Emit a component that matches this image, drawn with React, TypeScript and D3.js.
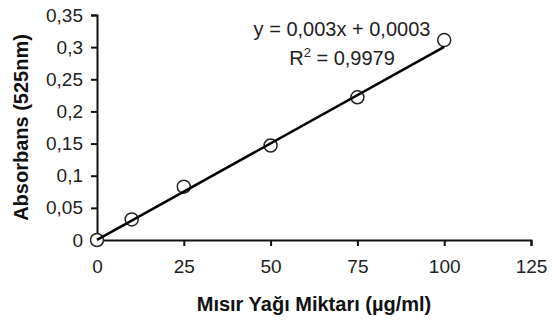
import React, { useEffect, useRef } from 'react'
import * as d3 from 'd3'

// concentration (µg/ml) vs absorbance at 525nm
const amounts = [0, 10, 25, 50, 75, 100]
const absorbances = [0, 0.032, 0.083, 0.147, 0.222, 0.311]

const xTicks = [0, 25, 50, 75, 100, 125]
const yTicks = [0, 0.05, 0.1, 0.15, 0.2, 0.25, 0.3, 0.35]

const slope = 0.003
const intercept = 0.0003
const equationLabel = 'y = 0,003x + 0,0003'
const r2Value = ' = 0,9979'

const xTitle = 'Mısır Yağı Miktarı (µg/ml)'
const yTitle = 'Absorbans (525nm)'

const width = 555
const height = 322
const font = '"Liberation Sans", Arial, sans-serif'

const comma = (d: number) => String(d).replace('.', ',')

export default function App () {
  const ref = useRef<SVGSVGElement>(null)

  useEffect(() => {
    const svg = d3.select(ref.current)
    svg.selectAll('*').remove()

    const x = d3.scaleLinear().domain([0, 125]).range([97, 531])
    const y = d3.scaleLinear().domain([0, 0.35]).range([240, 15])

    const g = svg.append('g').attr('font-family', font)

    // y axis
    const yAxis = g.append('g')
      .attr('transform', 'translate(' + x(0) + ',0)')
      .call(d3.axisLeft(y).tickValues(yTicks).tickSize(6).tickPadding(8).tickFormat(d => comma(+d)))
    yAxis.select('.domain').attr('stroke', '#111').attr('stroke-width', 2)
    yAxis.selectAll('.tick line').attr('stroke', '#111').attr('stroke-width', 2)
    yAxis.selectAll('.tick text')
      .attr('font-size', 19)
      .attr('fill', '#222')
      .attr('font-family', font)

    // x axis
    const xAxis = g.append('g')
      .attr('transform', 'translate(0,' + y(0) + ')')
      .call(d3.axisBottom(x).tickValues(xTicks).tickSize(6).tickPadding(14).tickFormat(d => comma(+d)))
    xAxis.select('.domain').attr('stroke', '#111').attr('stroke-width', 2)
    xAxis.selectAll('.tick line').attr('stroke', '#111').attr('stroke-width', 2)
    xAxis.selectAll('.tick text')
      .attr('font-size', 19)
      .attr('fill', '#222')
      .attr('font-family', font)

    // markers
    g.append('g').selectAll('circle')
      .data(amounts)
      .enter().append('circle')
      .attr('cx', d => x(d))
      .attr('cy', (d, i) => y(absorbances[i]))
      .attr('r', 6.5)
      .attr('fill', '#fff')
      .attr('stroke', '#222')
      .attr('stroke-width', 1.5)

    // linear trendline
    const line = d3.line<number>()
      .x(d => x(d))
      .y(d => y(slope * d + intercept))
    g.append('path')
      .datum([amounts[0], amounts[amounts.length - 1]])
      .attr('d', line)
      .attr('fill', 'none')
      .attr('stroke', '#000')
      .attr('stroke-width', 2.5)

    // equation
    g.append('text')
      .attr('x', 342)
      .attr('y', 36)
      .attr('text-anchor', 'middle')
      .attr('font-size', 20)
      .attr('fill', '#222')
      .text(equationLabel)

    const r2 = g.append('text')
      .attr('x', 342)
      .attr('y', 65)
      .attr('text-anchor', 'middle')
      .attr('font-size', 20)
      .attr('fill', '#222')
    r2.append('tspan').text('R')
    r2.append('tspan').attr('font-size', 13).attr('dy', -8).text('2')
    r2.append('tspan').attr('dy', 8).text(r2Value)

    // titles
    g.append('text')
      .attr('x', (x(0) + x(125)) / 2)
      .attr('y', 311)
      .attr('text-anchor', 'middle')
      .attr('font-size', 20)
      .attr('font-weight', 'bold')
      .attr('fill', '#111')
      .text(xTitle)

    g.append('text')
      .attr('transform', 'translate(28,' + (y(0) + y(0.35)) / 2 + ') rotate(-90)')
      .attr('text-anchor', 'middle')
      .attr('font-size', 20)
      .attr('font-weight', 'bold')
      .attr('fill', '#111')
      .text(yTitle)
  }, [])

  return <svg
    ref={ref}
    width={width}
    height={height}
    viewBox={`0 0 ${width} ${height}`}
    style={{ position: 'absolute', left: 0, top: 0, background: '#fff' }}
  />
}
